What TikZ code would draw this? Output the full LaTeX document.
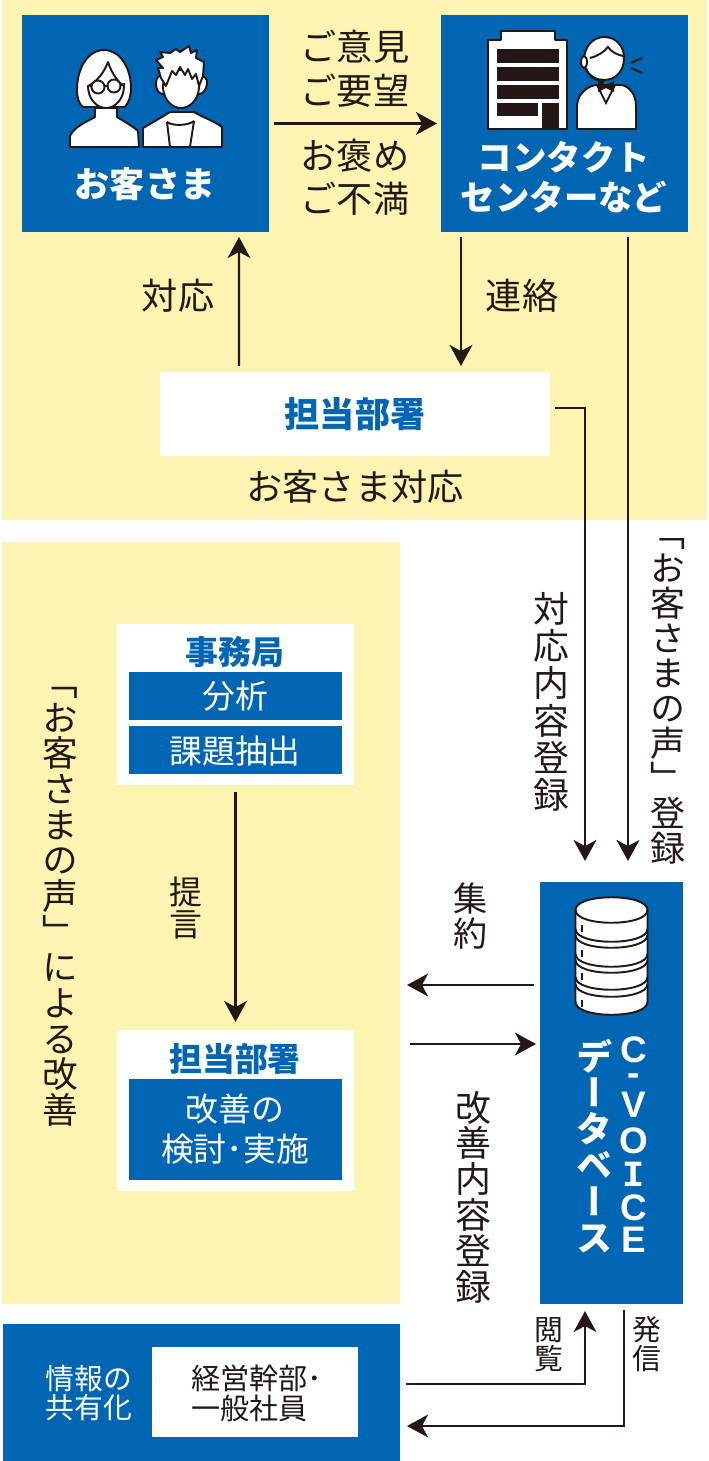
\documentclass[tikz,border=0pt]{standalone}
\usepackage{fontspec}
\usetikzlibrary{arrows.meta}
\setmainfont{Noto Sans CJK JP}
\newfontfamily\vertfont[RawFeature={vertical}]{Noto Sans CJK JP}
\newfontfamily\serifI{Liberation Mono}
\newfontfamily\voicefont{Liberation Sans}
\newcommand\unitpx{0.02cm}
\definecolor{panelyellow}{HTML}{FEF4B1}
\definecolor{voiceblue}{HTML}{0066B3}
\definecolor{inkblack}{HTML}{231815}
\tikzset
{
  sized/.style 2 args={inner sep=0,outer sep=0,minimum width=#1*\unitpx,minimum height=#2*\unitpx},
  panel/.style 2 args={sized={#1}{#2},fill=panelyellow},
  bluebox/.style 2 args={sized={#1}{#2},fill=voiceblue},
  whitebox/.style 2 args={sized={#1}{#2},fill=white},
  label/.style={inner sep=0,outer sep=0,align=center,text=inkblack,font=\fontsize{20.6}{25}\selectfont},
  small/.style={font=\fontsize{18.7}{23}\selectfont},
  strong/.style={text=voiceblue,font=\bfseries\fontsize{20}{25}\selectfont},
  onblue/.style={align=center,text=white,font=\bfseries\fontsize{20}{23}\selectfont},
  vlabel/.style={xshift=0.39*#1 pt,inner sep=0,outer sep=0,rotate=-90,text=inkblack,font=\vertfont\fontsize{#1}{#1}\selectfont},
  flow/.style={draw=inkblack,line width=1.2pt,-{Stealth[length=12pt,width=13pt,inset=3.5pt]}},
  icon/.style={draw=inkblack,fill=white,line width=1.1pt,line join=round},
  iconline/.style={draw=inkblack,line width=1.1pt}
}
\begin{document}
\begin{tikzpicture}[x=\unitpx,y=-\unitpx]
\useasboundingbox (0,0) rectangle (708,1461);
% yellow panels
\node[panel={705}{520}] (panelTop) at (354.5,260) {};
\node[panel={398}{762}] (panelLeft) at (201,923) {};
% boxes
\node[bluebox={247}{217}] (customer) at (145.5,123.5) {};
\node[bluebox={247}{217}] (center) at (564.5,123.5) {};
\node[whitebox={390}{84}] (dept) at (355,414) {};
\node[bluebox={143}{422}] (database) at (611.5,1093) {};
\node[whitebox={237}{161}] (office) at (235.5,704.5) {};
\node[bluebox={213}{48}] (analysis) at (235.5,696) {};
\node[bluebox={213}{48}] (issues) at (235.5,750) {};
\node[whitebox={237}{161}] (deptB) at (235.5,1110.5) {};
\node[bluebox={213}{101}] (review) at (235.5,1129.5) {};
\node[bluebox={397}{137}] (share) at (201.5,1392.5) {};
\node[whitebox={206}{90}] (staff) at (255,1392) {};
% texts
\node[label] (opinion) at (355,69) {ご意見\\[-0.2pt]ご要望};
\node[label] (praise) at (355,177) {お褒め\\[-0.2pt]ご不満};
\node[onblue] (customerT) at (145,184) {お客さま};
\node[onblue,font=\bfseries\fontsize{19.6}{23}\selectfont] (centerT) at (564,177) {コンタクト\\センターなど};
\node[label] (respond) at (178,296) {対応};
\node[label] (contact) at (522,296) {連絡};
\node[strong] (deptT) at (355,414) {担当部署};
\node[label] (support) at (355,487) {お客さま対応};
\node[strong,font=\bfseries\fontsize{18.7}{23}\selectfont] (officeT) at (235,652) {事務局};
\node[label,small,text=white] (analysisT) at (235,696) {分析};
\node[label,small,text=white] (issuesT) at (235,751) {課題抽出};
\node[strong,font=\bfseries\fontsize{18.7}{23}\selectfont] (deptBT) at (235,1059) {担当部署};
\node[label,small,text=white] (reviewT) at (235,1129) {改善の\\検討･実施};
\node[label,text=white,font=\fontsize{16.4}{17}\selectfont] (shareT) at (89,1393) {情報の\\共有化};
\node[label,align=left,font=\fontsize{16.6}{17}\selectfont,anchor=west] (staffT) at (191,1393) {経営幹部･\\一般社員};
% vertical texts
\node[vlabel=20.4] (vRecord) at (551,702) {\addfontfeature{LetterSpace=4}対応内容登録};
\node[vlabel=19.9] (vVoice) at (668,691) {「お客さまの声」登録};
\node[vlabel=20.3] (vImprove) at (60,896) {「お客さまの声」による改善};
\node[vlabel=18.7] (vPropose) at (186,908) {提言};
\node[vlabel=19.4] (vCollect) at (470,916) {集約};
\node[vlabel=20.4] (vResult) at (473,1197) {改善内容登録};
\node[vlabel=16.4] (vBrowse) at (549,1344) {閲覧};
\node[vlabel=16.4] (vSend) at (646,1344) {発信};
\node[vlabel=20.6,text=white,font=\vertfont\bfseries\fontsize{20.6}{20.6}\selectfont] (dbT) at (595,1147) {データベース};
\node[inner sep=0,align=center,text=white,font=\voicefont\bfseries\fontsize{21}{18.7}\selectfont] (voiceT) at (634,1145) {C\\[-5.7pt]-\\[-0.6pt]V\\[1.7pt]O\\{\serifI I}\\[0.6pt]C\\E};
% connectors
\coordinate (dbOut) at ([yshift=108*\unitpx]database.west);
\coordinate (dbIn) at ([yshift=49*\unitpx]database.west);
\draw[flow,shorten <=5*\unitpx,shorten >=4*\unitpx] (customer.east) -- (center.west);
\draw[flow,shorten <=6*\unitpx,shorten >=5*\unitpx] ([xshift=-116*\unitpx]dept.north) -- ([xshift=93.5*\unitpx]customer.south);
\draw[flow,shorten <=5*\unitpx,shorten >=6*\unitpx] ([xshift=-103.5*\unitpx]center.south) -- ([xshift=106*\unitpx]dept.north);
\draw[flow,shorten <=5*\unitpx,shorten >=21*\unitpx] ([xshift=63.5*\unitpx]center.south) -- ([xshift=16.5*\unitpx]database.north);
\draw[flow,shorten <=5*\unitpx,shorten >=21*\unitpx] ([yshift=6*\unitpx]dept.east) -| ([xshift=-26.5*\unitpx]database.north);
\draw[flow,shorten <=6*\unitpx,shorten >=7*\unitpx] (dbOut) -- (panelLeft.east |- dbOut);
\draw[flow,shorten <=10*\unitpx,shorten >=4*\unitpx] (panelLeft.east |- dbIn) -- (dbIn);
\draw[flow,shorten <=6*\unitpx,shorten >=7*\unitpx] ([yshift=8.5*\unitpx]share.east) -| ([xshift=-26.5*\unitpx]database.south);
\draw[flow,shorten <=6*\unitpx,shorten >=7*\unitpx] ([xshift=12.5*\unitpx]database.south) |- ([yshift=-33.5*\unitpx]share.east);
\draw[flow,shorten <=7*\unitpx,shorten >=8*\unitpx] (office.south) -- (deptB.north);
% woman
\draw[icon] (104,50) .. controls (88,50) and (77,68) .. (77,90) .. controls (77,98) and (79,104) .. (83,107) -- (125,107) .. controls (129,102) and (131,96) .. (131,88) .. controls (131,68) and (120,50) .. (104,50) -- cycle;
\draw[icon] (95,108) -- (117,108) -- (117,117) .. controls (125,122) and (134,127) .. (138,131) -- (139,147) -- (70,147) -- (70,136) .. controls (74,127) and (86,122) .. (95,117) -- cycle;
\draw[icon] (88,86) .. controls (92,84) and (102,78) .. (108,62) .. controls (112,74) and (118,82) .. (124,86) .. controls (124,98) and (116,108) .. (106,108) .. controls (96,108) and (88,98) .. (88,86) -- cycle;
\draw[iconline,fill=white] (98,87) circle (6.5) (114,86) circle (6.5);
\draw[iconline] (90,85) -- (91,87) (104.5,86) -- (107.5,86) (120.5,85) -- (125,84);
% man
\draw[icon] (156,84) .. controls (156,76) and (160,74) .. (163,78) -- (199,78) .. controls (203,74) and (208,78) .. (207,84) .. controls (206,90) and (203,94) .. (199,94) -- (163,94) .. controls (159,94) and (156,90) .. (156,84) -- cycle;
\draw[icon] (143,147) -- (143,128) .. controls (150,124) and (162,117) .. (170,112) -- (194,112) .. controls (202,117) and (214,121) .. (222,127) -- (222,147) -- cycle;
\draw[iconline] (167,122) .. controls (172,126) and (188,126) .. (194,121) (167,122) -- (170,147) (194,121) -- (190,147);
\draw[icon] (164,70) -- (163,88) .. controls (164,100) and (172,108) .. (181,108) .. controls (190,108) and (198,100) .. (199,88) -- (200,70) -- cycle;
\draw[icon,fill=white] (166,86) -- (161,78) -- (158,68) -- (163,68) -- (156,60) -- (163,57) -- (160,52) -- (170,53) -- (176,49) -- (180,52) -- (189,46) -- (191,53) -- (197,50) -- (196,58) -- (204,62) -- (203,76) -- (199,86) -- (196,74) -- (192,79) -- (188,69) -- (185,75) -- (180,67) -- (176,75) -- (172,71) -- cycle;
% building
\draw[icon] (488,129) -- (488,40) -- (501,40) -- (501,31) -- (555,31) -- (555,40) -- (567,40) -- (567,129) -- cycle;
\foreach\yy in {49,67,85}
{
  \fill[inkblack] (497,\yy) rectangle (559,\yy+13.5);
}
\fill[inkblack] (497,103) rectangle (538,116);
\fill[inkblack] (542,103) rectangle (559,129);
% operator
\draw[icon] (577,129) -- (577,105) .. controls (578,92) and (590,85) .. (597,85) -- (622,85) .. controls (630,87) and (636,95) .. (636,106) -- (636,129) -- cycle;
\draw[iconline] (597,85) -- (606,103) -- (615,85);
\fill[inkblack] (598,81) -- (606,85) -- (614,81) -- (614,92) -- (606,88) -- (598,92) -- cycle;
\draw[icon] (604,37) .. controls (592,37) and (584,48) .. (584,60) .. controls (584,72) and (593,80) .. (604,80) .. controls (615,80) and (624,72) .. (624,58) .. controls (624,46) and (616,37) .. (604,37) -- cycle;
\draw[iconline] (590,58) .. controls (598,56) and (604,52) .. (608,47) .. controls (611,52) and (618,55) .. (623,56);
\draw[iconline] (586,68) .. controls (588,76) and (594,80) .. (602,81);
\draw[inkblack,fill=white,line width=1.1pt] (584,62) ellipse (3 and 6);
\fill[inkblack] (602,81) circle (2.5);
\draw[iconline] (631,63) -- (642,58) (631,68) -- (642,73);
% database
\draw[icon] (575.5,910) .. controls (575.5,893) and (647.5,893) .. (647.5,910) -- (647.5,1002) .. controls (647.5,1019) and (575.5,1019) .. (575.5,1002) -- cycle;
\draw[iconline] (575.5,910) .. controls (575.5,927) and (647.5,927) .. (647.5,910);
\foreach\yy in {929,935,954,960,977,984}
{
  \draw[iconline] (575.5,\yy) .. controls (575.5,\yy+17) and (647.5,\yy+17) .. (647.5,\yy);
}
\foreach\yy in {925,950,973,1000}
{
  \draw[iconline] (582,\yy) -- (582,\yy+7);
}
\end{tikzpicture}
\end{document}
